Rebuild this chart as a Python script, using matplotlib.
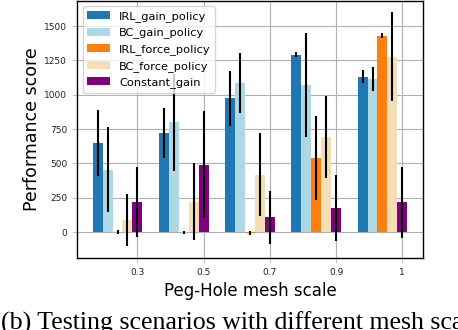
import numpy as np
import matplotlib
matplotlib.use("Agg")
import matplotlib.pyplot as plt

categories = ["0.3", "0.5", "0.7", "0.9", "1"]
series_names = ["IRL_gain_policy", "BC_gain_policy", "IRL_force_policy",
                "BC_force_policy", "Constant_gain"]
irl_gain = [651, 723, 973, 1290, 1130]
irl_gain_err = [240, 184, 202, 18, 48]
bc_gain = [455, 798, 1086, 1072, 1115]
bc_gain_err = [308, 355, 218, 380, 88]
irl_force = [-2, -3, -8, 542, 1430]
irl_force_err = [14, 12, 15, 305, 18]
bc_force = [88, 222, 419, 692, 1278]
bc_force_err = [192, 282, 303, 299, 322]
constant_gain = [218, 492, 107, 175, 217]
constant_gain_err = [256, 393, 195, 242, 257]

colors = ["#1f77b4", "lightblue", "#ff7f0e", "wheat", "purple"]
values = [irl_gain, bc_gain, irl_force, bc_force, constant_gain]
errors = [irl_gain_err, bc_gain_err, irl_force_err, bc_force_err, constant_gain_err]

fig = plt.figure(figsize=(4.58, 3.30), dpi=100)
ax = fig.add_axes([0.168, 0.218, 0.7556, 0.78])

x = np.arange(len(categories))
w = 0.15
for i, (vals, errs, c, name) in enumerate(zip(values, errors, colors, series_names)):
    ax.bar(x + (i - 4) * w, vals, w, yerr=errs, color=c, label=name,
           error_kw=dict(ecolor="black", elinewidth=1.5, capsize=0), zorder=2)

ax.set_xticks(x)
ax.set_xticklabels(categories)
ax.set_yticks([0, 250, 500, 750, 1000, 1250, 1500])
ax.grid(True, color="#b0b0b0", linewidth=0.8, zorder=0)
ax.set_axisbelow(True)
ax.tick_params(labelsize=6.5, color="#c8c8c8", labelcolor="#222222", length=3.5, width=0.8)
for s in ax.spines.values():
    s.set_linewidth(1.0)
    s.set_color("black")
ax.set_ylabel("Performance score", fontsize=12.5, labelpad=2)
ax.set_xlabel("Peg-Hole mesh scale", fontsize=12, labelpad=4)
ax.legend(loc="upper left", fontsize=8.2)

fig.text(0.003, 0.0015, "(b) Testing scenarios with different mesh sca",
         fontsize=18.6, family="Liberation Serif", ha="left", va="baseline")

fig.savefig("out.png", dpi=100)
